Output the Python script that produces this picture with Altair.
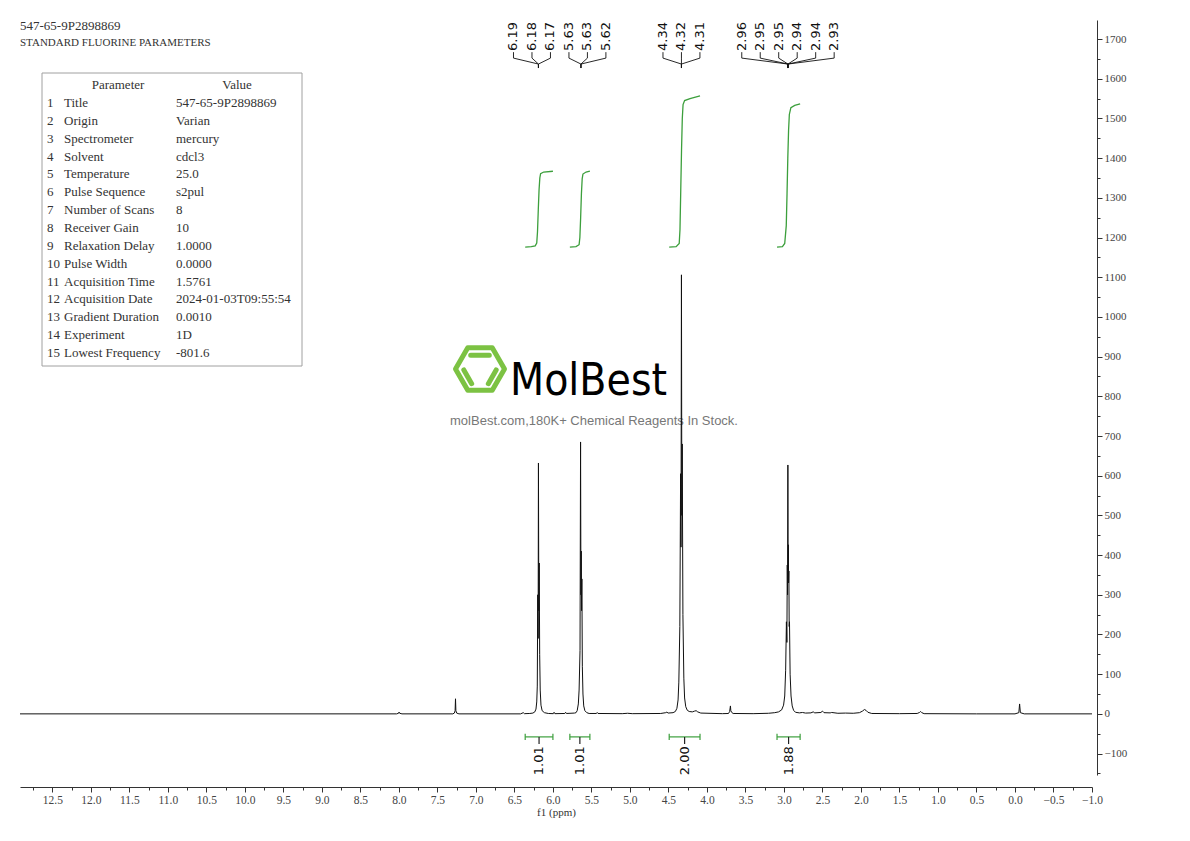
import altair as alt
import pandas as pd

# ---------------- data ----------------
# 1H spectrum trace (ppm, intensity)
spec_ppm = [
    12.92, 8.03, 8.005, 7.998, 7.99, 7.96,
    7.30, 7.28, 7.27, 7.265, 7.26, 7.25, 7.22,
    6.42, 6.385, 6.37,
    6.30, 6.26, 6.235, 6.22, 6.21, 6.203, 6.197, 6.192, 6.188, 6.183, 6.178, 6.172, 6.165, 6.155, 6.14, 6.11, 6.06,
    5.995, 5.985, 5.975,
    5.845, 5.835, 5.825,
    5.72, 5.70, 5.685, 5.67, 5.66, 5.648, 5.641, 5.636, 5.632, 5.628, 5.624, 5.618, 5.61, 5.60, 5.585, 5.56, 5.53,
    5.435, 5.425, 5.415,
    5.10, 5.03, 4.97,
    4.60, 4.535, 4.52, 4.505,
    4.44, 4.41, 4.39, 4.375, 4.365, 4.352, 4.342, 4.337, 4.331, 4.326, 4.321, 4.312, 4.30, 4.29, 4.275, 4.255, 4.23, 4.19, 4.16, 4.14, 4.12, 4.08,
    3.80, 3.72, 3.705, 3.695, 3.69, 3.68, 3.66,
    3.40, 3.20, 3.12, 3.07, 3.03, 3.005, 2.99, 2.978, 2.968, 2.962, 2.957, 2.953, 2.949, 2.946, 2.943, 2.94, 2.936, 2.932, 2.928, 2.92, 2.908, 2.893, 2.875, 2.85,
    2.80, 2.76, 2.72, 2.65, 2.62, 2.60, 2.52, 2.50, 2.48, 2.40, 2.38, 2.30, 2.20, 2.10,
    2.02, 1.98, 1.955, 1.935, 1.91, 1.86,
    1.50, 1.27, 1.24, 1.225, 1.21, 1.18,
    0.50, 0.0, -0.05, -0.06, -0.07, -0.12, -1.0,
]
spec_int = [
    0, 0, 1.5, 4.5, 1.5, 0,
    0, 2, 8, 38, 8, 2, 0,
    0, 3, 0.5,
    1, 2, 5, 12, 30, 70, 300, 190, 632, 260, 380, 150, 60, 22, 8, 3, 1,
    0.5, 4, 0.5,
    1, 4, 1,
    2, 3, 8, 25, 60, 160, 685, 300, 410, 260, 340, 120, 50, 20, 8, 3, 1,
    1, 3.5, 1,
    0.5, 1.5, 0.5,
    1, 3, 4.5, 2,
    3, 6, 14, 35, 80, 220, 605, 420, 1106, 500, 680, 250, 90, 40, 18, 9, 6, 5, 7, 8, 5, 2,
    0.5, 1, 6, 20, 8, 4, 1,
    0.5, 1.5, 3, 5, 10, 22, 45, 110, 232, 180, 375, 300, 627, 350, 426, 330, 360, 220, 232, 100, 45, 20, 9, 4,
    2.5, 3.5, 2, 2.5, 5, 2.5, 3.5, 7, 3, 2.5, 3.5, 1.5, 2, 1.5,
    3, 7, 11, 9, 4, 1,
    0.5, 1, 3.5, 6, 3, 0.5,
    0, 0, 3, 25, 3, 0, 0,
]

# integral curves (ppm, running integral drawn on the intensity scale)
int1_ppm = [6.36, 6.28, 6.23, 6.21, 6.20, 6.19, 6.18, 6.17, 6.16, 6.12, 6.00]
int1_val = [1176, 1177, 1179, 1186, 1215, 1270, 1320, 1350, 1361, 1365, 1367]
int2_ppm = [5.78, 5.70, 5.66, 5.65, 5.64, 5.63, 5.62, 5.61, 5.57, 5.52]
int2_val = [1176, 1177, 1182, 1200, 1250, 1310, 1348, 1360, 1365, 1367]
int3_ppm = [4.49, 4.40, 4.36, 4.35, 4.34, 4.33, 4.32, 4.31, 4.29, 4.22, 4.09]
int3_val = [1176, 1177, 1185, 1220, 1320, 1420, 1500, 1535, 1545, 1550, 1557]
int4_ppm = [3.09, 3.02, 2.99, 2.97, 2.96, 2.95, 2.94, 2.93, 2.91, 2.86, 2.79]
int4_val = [1176, 1177, 1185, 1230, 1310, 1400, 1470, 1510, 1527, 1533, 1537]

# integration ranges and values
int_start = [6.36, 5.78, 4.49, 3.09]
int_end = [6.00, 5.52, 4.09, 2.79]
int_labels = ["1.01", "1.01", "2.00", "1.88"]

# peak-picking labels and the peaks they point to
peak_labels_a = ["6.19", "6.18", "6.17", "5.63", "5.63", "5.62"]
peak_target_a = [6.188, 6.188, 6.188, 5.636, 5.636, 5.636]
peak_labels_b = ["4.34", "4.32", "4.31"]
peak_target_b = [4.331, 4.331, 4.331]
peak_labels_c = ["2.96", "2.95", "2.95", "2.94", "2.94", "2.93"]
peak_target_c = [2.948, 2.948, 2.948, 2.948, 2.948, 2.948]

# parameter table
param_names = ["Title", "Origin", "Spectrometer", "Solvent", "Temperature", "Pulse Sequence",
               "Number of Scans", "Receiver Gain", "Relaxation Delay", "Pulse Width",
               "Acquisition Time", "Acquisition Date", "Gradient Duration", "Experiment",
               "Lowest Frequency"]
param_values = ["547-65-9P2898869", "Varian", "mercury", "cdcl3", "25.0", "s2pul", "8", "10",
                "1.0000", "0.0000", "1.5761", "2024-01-03T09:55:54", "0.0010", "1D", "-801.6"]
header_lines = ["547-65-9P2898869", "STANDARD FLUORINE PARAMETERS"]

x_ticks = [round(12.75 - 0.25 * i, 2) for i in range(56)]
y_ticks = list(range(-150, 1701, 50))

# ---------------- style ----------------
X_DOMAIN = [-1.0, 12.92]
Y_DOMAIN = [-154, 1748]
GREEN = "#3c9f3c"
SERIF = "Liberation Serif"
SANS = "DejaVu Sans"
LOGO_FONT = "DejaVu Sans Condensed, Roboto Condensed, Liberation Sans Narrow, Roboto, sans-serif"

x_axis = alt.Axis(
    values=x_ticks,
    labelExpr="abs(datum.value*2 - round(datum.value*2)) < 0.01 ? format(datum.value, '.1f') : ''",
    tickSize={"condition": {"test": "abs(datum.value*2 - round(datum.value*2)) < 0.01", "value": 5}, "value": 3},
    offset=12, title="f1 (ppm)", grid=False,
    domainColor="#333", tickColor="#333", labelColor="#444",
    labelFont=SERIF, labelFontSize=11.5, labelFlush=False, labelOverlap=False, labelPadding=2,
    titleFont=SERIF, titleFontSize=11, titleFontWeight="normal", titleColor="#333", titlePadding=1,
)
y_axis = alt.Axis(
    orient="right", values=y_ticks,
    labelExpr="datum.value % 100 == 0 ? format(datum.value, 'd') : ''",
    tickSize={"condition": {"test": "datum.value % 100 == 0", "value": 5}, "value": 3},
    offset=5, title=None, grid=False,
    domainColor="#333", tickColor="#333", labelColor="#444",
    labelFont=SERIF, labelFontSize=11, labelFlush=False, labelOverlap=False, labelPadding=2,
)


def X(field):
    return alt.X(f"{field}:Q", scale=alt.Scale(domain=X_DOMAIN, reverse=True, nice=False, zero=False), axis=x_axis)


def Y(field):
    return alt.Y(f"{field}:Q", scale=alt.Scale(domain=Y_DOMAIN, nice=False, zero=False), axis=y_axis)


# ---------------- tables ----------------
spec_df = pd.DataFrame({"ppm": spec_ppm, "inten": spec_int})

int_rows = []
for gid, (pp, vv) in enumerate([(int1_ppm, int1_val), (int2_ppm, int2_val),
                                 (int3_ppm, int3_val), (int4_ppm, int4_val)]):
    for k, (p, v) in enumerate(zip(pp, vv)):
        int_rows.append({"ppm": p, "val": v, "g": gid, "k": k})
int_df = pd.DataFrame(int_rows)

BR_Y, CAP_HI, CAP_LO, STUB_LO, LAB_Y = -58, -50, -66, -76, -118
br_df = pd.DataFrame({"s": int_start, "e": int_end, "lab": int_labels})
br_df["c"] = (br_df["s"] + br_df["e"]) / 2
br_df["yb"] = BR_Y
br_df["yc1"] = CAP_HI
br_df["yc2"] = CAP_LO
br_df["ys"] = STUB_LO
br_df["ly"] = LAB_Y

LABEL_SPACING = 0.24
T_Y, V_Y, D_Y, S_Y = 1670, 1652, 1637, 1627
lab_rows, conn_rows = [], []
lid = 0
for labels, targets in [(peak_labels_a, peak_target_a), (peak_labels_b, peak_target_b),
                        (peak_labels_c, peak_target_c)]:
    n = len(labels)
    c = sum(targets) / n
    for i, (lab, t) in enumerate(zip(labels, targets)):
        lx = c + ((n - 1) / 2 - i) * LABEL_SPACING
        lab_rows.append({"lx": lx, "ly": T_Y, "lab": lab})
        for k, (px, py) in enumerate([(lx, T_Y - 3), (lx, V_Y), (t, D_Y), (t, S_Y)]):
            conn_rows.append({"px": px, "py": py, "id": lid, "k": k})
        lid += 1
lab_df = pd.DataFrame(lab_rows)
conn_df = pd.DataFrame(conn_rows)

one = pd.DataFrame({"a": [0]})

# ---------------- layers ----------------
layers = []

# parameter table (page coords minus the 20px plot origin)
layers.append(alt.Chart(one).mark_rect(fillOpacity=0, stroke="#a0a0a0", strokeWidth=1).encode(
    x=alt.value(22), x2=alt.value(282), y=alt.value(53), y2=alt.value(346)))
layers.append(alt.Chart(one).mark_text(font=SERIF, fontSize=13, color="#333", align="center", baseline="middle").encode(
    x=alt.value(98), y=alt.value(65), text=alt.value("Parameter")))
layers.append(alt.Chart(one).mark_text(font=SERIF, fontSize=13, color="#333", align="center", baseline="middle").encode(
    x=alt.value(217), y=alt.value(65), text=alt.value("Value")))
tbl_df = pd.DataFrame({
    "num": ["\n".join(str(i + 1) for i in range(len(param_names)))],
    "name": ["\n".join(param_names)],
    "val": ["\n".join(param_values)],
})
for field, xpos in [("num", 27), ("name", 44), ("val", 156)]:
    layers.append(alt.Chart(tbl_df).mark_text(font=SERIF, fontSize=13, color="#333", align="left",
                                              baseline="top", lineBreak="\n", lineHeight=17.86).encode(
        x=alt.value(xpos), y=alt.value(77), text=f"{field}:N"))

layers.append(alt.Chart(one).mark_text(font=SERIF, fontSize=13, color="#333", align="left", baseline="middle").encode(
    x=alt.value(0), y=alt.value(6), text=alt.value(header_lines[0])))
layers.append(alt.Chart(one).mark_text(font=SERIF, fontSize=11, color="#333", align="left", baseline="middle").encode(
    x=alt.value(0), y=alt.value(23), text=alt.value(header_lines[1])))

# watermark
hex_path = ("M-1,0L-0.5,-0.866L0.5,-0.866L1,0L0.5,0.866L-0.5,0.866Z"
            "M-0.38,-0.56L0.38,-0.56M-0.66,0.04L-0.34,0.6M0.66,0.04L0.34,0.6")
layers.append(alt.Chart(one).mark_point(shape=hex_path, size=2401, filled=False, stroke="#7cc243",
                                        strokeWidth=5, opacity=1, strokeJoin="round", strokeCap="round").encode(
    x=alt.value(460), y=alt.value(349)))
layers.append(alt.Chart(one).mark_text(font=LOGO_FONT, fontSize=44, color="#000",
                                       align="left", baseline="alphabetic").encode(
    x=alt.value(490), y=alt.value(375), text=alt.value("MolBest")))
layers.append(alt.Chart(one).mark_text(font="Liberation Sans", fontSize=13, color="#777",
                                       align="center", baseline="middle").encode(
    x=alt.value(574), y=alt.value(401), text=alt.value("molBest.com,180K+ Chemical Reagents In Stock.")))

# spectrum
layers.append(alt.Chart(spec_df).mark_line(color="#111", strokeWidth=1).encode(x=X("ppm"), y=Y("inten")))

# integral curves
layers.append(alt.Chart(int_df).mark_line(color=GREEN, strokeWidth=1.3).encode(
    x=X("ppm"), y=Y("val"), detail="g:N", order="k:Q"))

# integration brackets
layers.append(alt.Chart(br_df).mark_rule(color=GREEN, strokeWidth=1.2).encode(x=X("s"), x2="e:Q", y=Y("yb")))
layers.append(alt.Chart(br_df).mark_rule(color=GREEN, strokeWidth=1.2).encode(x=X("s"), y=Y("yc1"), y2="yc2:Q"))
layers.append(alt.Chart(br_df).mark_rule(color=GREEN, strokeWidth=1.2).encode(x=X("e"), y=Y("yc1"), y2="yc2:Q"))
layers.append(alt.Chart(br_df).mark_rule(color="#222", strokeWidth=1.2).encode(x=X("c"), y=Y("yb"), y2="ys:Q"))
layers.append(alt.Chart(br_df).mark_text(font=SANS, fontSize=13, color="#111", angle=270,
                                         align="center", baseline="middle").encode(
    x=X("c"), y=Y("ly"), text="lab:N"))

# peak labels + connectors
layers.append(alt.Chart(conn_df).mark_line(color="#111", strokeWidth=0.9).encode(
    x=X("px"), y=Y("py"), detail="id:N", order="k:Q"))
layers.append(alt.Chart(lab_df).mark_text(font=SANS, fontSize=13, color="#111", angle=270,
                                          align="left", baseline="middle").encode(
    x=X("lx"), y=Y("ly"), text="lab:N"))

chart = alt.layer(*layers).properties(
    width=1072, height=755,
    padding={"left": 10, "top": 12, "right": 10, "bottom": 5},
).configure_view(stroke=None)

chart.save("out.html", embed_options={"renderer": "svg", "actions": False})
